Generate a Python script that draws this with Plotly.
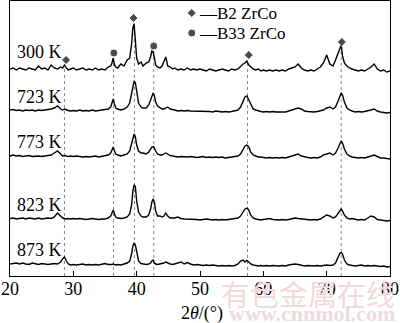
import plotly.graph_objects as go

# 2theta sample positions (degrees)
two_theta = [
    20.0, 20.5, 21.0, 21.5, 22.0, 22.5, 23.0, 23.5, 24.0, 24.5, 25.0, 25.5, 26.0, 26.5, 27.0, 27.5, 28.0,
    28.3, 28.6, 28.9, 29.2, 29.6,
    30.0, 30.5, 31.0, 31.5, 32.0, 32.5, 33.0, 33.5, 34.0, 34.5, 35.0, 35.5,
    35.9, 36.1, 36.3, 36.5, 36.7,
    37.0, 37.5, 38.0, 38.5,
    38.9, 39.2, 39.4, 39.6, 39.8, 40.0, 40.3, 40.7,
    41.0, 41.5, 41.9,
    42.2, 42.4, 42.6, 42.8, 43.0, 43.3, 43.7,
    44.0, 44.3, 44.6, 44.9, 45.3, 45.7,
    46.0, 46.5, 47.0, 47.5, 48.0, 48.5, 49.0, 49.5, 50.0, 50.5, 51.0, 51.5, 52.0, 52.5, 53.0, 53.5,
    54.0, 54.5, 55.0, 55.5, 56.0,
    56.4, 56.8, 57.1, 57.4, 57.7, 58.0, 58.4, 58.8, 59.2, 59.6,
    60.0, 60.5, 61.0, 61.5, 62.0, 62.5, 63.0, 63.5, 64.0, 64.5, 65.0, 65.5, 66.0, 66.5, 67.0, 67.5,
    68.0, 68.5, 69.0, 69.5, 70.0, 70.5, 71.0,
    71.4, 71.8, 72.1, 72.3, 72.5, 72.8, 73.2, 73.6,
    74.0, 74.5, 75.0, 75.5, 76.0, 76.5, 77.0, 77.5, 78.0, 78.5, 79.0, 79.5, 80.0,
]

# intensities (a.u.) for each temperature
i_300 = [
    3, 4, 2, 4, 3, 2, 4, 3, 2, 6, 3, 4, 2, 7, 4, 3, 5,
    4, 7, 4, 2, 3,
    4, 2, 3, 4, 2, 3, 2, 4, 2, 3, 2, 5,
    6, 9, 14, 7, 5,
    4, 8, 6, 12,
    14, 28, 44, 48, 34, 14, 8, 10,
    6, 9, 10,
    15, 21, 20, 14, 7, 5, 4,
    6, 10, 15, 6, 5, 3,
    4, 2, 3, 2, 4, 2, 3, 2, 3, 2, 1, 3, 2, 1, 2, 3, 2, 1, 3, 2, 3,
    6, 8, 9, 11, 7, 5, 3, 2, 3, 1,
    2, 1, 2, 1, 2, 1, 2, 1, 3, 4, 5, 8, 4, 2, 1, 2, 1, 3, 5, 9, 17, 8, 6,
    12, 18, 24, 27, 16, 9, 6, 4,
    3, 2, 1, 2, 1, 3, 5, 8, 3, 1, 2, 0, 1,
]
i_723 = [
    3, 3.5, 2.5, 3, 2, 3, 2.5, 3, 2, 3, 2.5, 3, 3, 4, 5, 7, 4,
    3, 4, 3, 2.5, 2,
    2.5, 2, 3, 2, 2.5, 2, 3, 2, 2.5, 3, 3, 4,
    6, 10, 14, 9, 5,
    4, 3, 4, 6,
    10, 20, 29, 32, 30, 20, 10, 6,
    5, 5, 8,
    13, 18, 20, 17, 11, 7, 5,
    4, 4, 5, 6, 4, 3,
    3, 2, 2.5, 2, 2.5, 2, 2, 1.5, 2, 1.5, 2, 1.5, 1, 2, 1.5, 1, 1.5, 1, 1.5, 2, 3,
    6, 12, 16, 17, 13, 8, 4, 3, 2, 1.5,
    1, 1.5, 1, 1.5, 1, 1, 1.5, 1, 2, 3, 4, 5, 4, 2, 1.5, 1, 1, 1.5, 2, 3, 5, 6, 4,
    6, 12, 18, 20, 18, 11, 5, 3,
    2, 1, 1.5, 1, 1.5, 2, 3, 4, 2, 1, 0.5, 0, 0.5,
]
i_773 = [
    3, 4, 3, 3.5, 2.5, 3, 3.5, 2.5, 3, 3, 2.5, 3, 3.5, 4, 6, 8, 5,
    3, 3.5, 3, 2.5, 3,
    2.5, 3, 2.5, 2, 2.5, 2, 2.5, 3, 2, 2.5, 3, 4,
    6, 9, 12, 8, 5,
    4, 3, 4, 5,
    8, 15, 22, 25, 22, 14, 8, 6,
    6, 5, 7,
    10, 12, 12.5, 11, 8, 5, 4,
    4, 5, 6, 5, 3.5, 3,
    2.5, 2, 2.5, 2, 2, 2.5, 2, 1.5, 2, 2.5, 1.5, 2, 1.5, 2, 1.5, 2, 1, 1.5, 2, 2, 3,
    5, 10, 13, 14, 12, 7, 4, 3, 2, 2,
    1.5, 1, 1.5, 1, 1.5, 1, 1.5, 1, 2, 3, 4, 5, 3, 2, 1.5, 1, 1.5, 1, 2, 4, 5, 6, 4,
    6, 11, 16, 18, 16, 10, 5, 3,
    2, 1.5, 1, 1.5, 1, 2, 3, 4, 2.5, 1, 1, 0.5, 0,
]
i_823 = [
    2.5, 3, 2, 2.5, 3, 2, 3, 2.5, 2, 3, 2, 2.5, 3, 2.5, 4, 8, 5,
    3, 2.5, 2, 2.5, 2,
    2.5, 2, 2.5, 2, 1.5, 2, 2.5, 2, 1.5, 2, 2, 3,
    5, 8, 11, 7, 4,
    3, 2.5, 3, 4,
    7, 16, 30, 36, 34, 20, 9, 5,
    4, 4, 6,
    12, 19, 22, 19, 10, 5, 5,
    4, 5, 8, 5, 3, 3,
    3, 4, 2.5, 2, 2, 1.5, 2, 1.5, 1, 1.5, 2, 1.5, 1, 1.5, 1, 1.5, 1, 1.5, 2, 2, 3,
    5, 9, 12, 13, 11, 6, 3, 2, 1.5, 1,
    1.5, 2, 2.5, 1.5, 1, 1, 1.5, 1, 1.5, 2, 3, 2.5, 2, 1.5, 1, 1, 1.5, 1, 2, 4, 6, 5, 3,
    4, 8, 11, 12, 10, 6, 3, 2,
    2.5, 1.5, 1, 1.5, 1, 3, 5, 4, 1.5, 1, 0.5, 0, 0.5,
]
i_873 = [
    3, 3.5, 4, 3, 4, 3, 2.5, 4, 3, 2.5, 3.5, 3, 2.5, 3, 3.5, 3, 5,
    8, 10, 6, 3, 2,
    2.5, 2, 2.5, 3, 2, 2.5, 2, 2.5, 2, 3, 3.5, 2.5,
    2, 2.5, 3, 2.5, 2,
    2.5, 2, 3, 4,
    6, 13, 21, 24, 22, 14, 6, 3.5,
    3, 2.5, 3,
    4, 6, 7, 4, 3, 2.5, 3,
    3, 4, 5, 4, 3, 2.5,
    3, 4, 5, 3, 4.5, 3, 2, 2.5, 2, 1.5, 2, 1.5, 2, 1.5, 1, 1.5, 1, 1.5, 1, 1.5, 3,
    6, 7, 5, 6.5, 5, 3, 2, 1.5, 1, 1.5,
    1, 1.5, 1, 1.5, 1, 1, 1.5, 1, 2, 2.5, 3, 2.5, 1.5, 1, 1.5, 1, 1, 1.5, 1, 1.5, 2, 1.5, 2,
    4, 10, 14, 14.5, 13, 7, 3, 2,
    1.5, 1, 1.5, 2, 1, 1.5, 1, 1.5, 1, 0.5, 1, 0, 0.5,
]

temp_labels = ["300 K", "723 K", "773 K", "823 K", "873 K"]
series = [i_300, i_723, i_773, i_823, i_873]
offsets = [204, 163, 117, 55, 9]
label_y = [224, 179, 134, 71, 26]

# reference peak positions
peak_pos = [28.6, 36.35, 39.65, 42.7, 57.5, 72.3]
peak_phase = ["B2", "B33", "B2", "B33", "B2", "B2"]
marker_pos = [28.85, 36.4, 39.5, 42.7, 57.7, 72.4]
marker_y = [216, 223, 258, 230, 221, 234]

legend_names = ["B2 ZrCo", "B33 ZrCo"]

FONT = "Liberation Serif, Times New Roman, serif"

fig = go.Figure()

# watermark (behind everything)
wm = [
    dict(x=1.018, y=-0.062, xref="paper", yref="paper", text="有色金属在线",
         showarrow=False, xanchor="right", yanchor="middle",
         font=dict(family="Noto Sans CJK SC", size=29, color="#f3dada")),
    dict(x=1.018, y=-0.135, xref="paper", yref="paper", text="<b>www.cnnmol.com</b>",
         showarrow=False, xanchor="right", yanchor="middle",
         font=dict(family=FONT, size=22, color="#ecdcdc")),
]

# dotted guide lines
for px, my in zip(peak_pos, marker_y):
    fig.add_trace(go.Scatter(x=[px, px], y=[0, my - 5], mode="lines",
                             line=dict(color="#8a8a8a", width=1, dash="dot"),
                             hoverinfo="skip", showlegend=False))

for vals, off in zip(series, offsets):
    fig.add_trace(go.Scatter(x=two_theta, y=[v + off for v in vals], mode="lines",
                             line=dict(color="black", width=1.4),
                             showlegend=False))

sym = {"B2": "diamond", "B33": "circle"}
size = {"B2": 7, "B33": 8}
fig.add_trace(go.Scatter(x=marker_pos, y=marker_y, mode="markers",
                         marker=dict(symbol=[sym[p] for p in peak_phase],
                                     size=[size[p] for p in peak_phase], color="black"),
                         showlegend=False))

# legend (drawn manually)
leg_x = 48.7
leg_y = [263, 243]
fig.add_trace(go.Scatter(x=[leg_x, leg_x], y=leg_y, mode="markers",
                         marker=dict(symbol=["diamond", "circle"], size=[7, 8], color="black"),
                         showlegend=False))

annotations = list(wm)
for name, ly in zip(legend_names, leg_y):
    annotations.append(dict(x=49.5, y=ly, xref="x", yref="y", text="—" + name,
                            showarrow=False, xanchor="left", yanchor="middle",
                            font=dict(family=FONT, size=17, color="black")))
for t, ly in zip(temp_labels, label_y):
    annotations.append(dict(x=20.75, y=ly, xref="x", yref="y", text=t, showarrow=False,
                            xanchor="left", yanchor="middle",
                            font=dict(family=FONT, size=18, color="black")))

annotations.append(dict(x=0.505, y=-0.135, xref="paper", yref="paper",
                        text="2<i>θ</i>/(°)", showarrow=False, xanchor="center",
                        yanchor="middle", font=dict(family=FONT, size=18, color="black")))

fig.update_layout(
    width=400, height=323,
    margin=dict(l=10, r=10, t=1, b=47),
    paper_bgcolor="white", plot_bgcolor="white",
    annotations=annotations,
    xaxis=dict(range=[20, 80], tickvals=[20, 30, 40, 50, 60, 70, 80],
               ticks="inside", ticklen=5, tickcolor="black", tickwidth=1,
               ticklabelstandoff=-4,
               showline=True, linecolor="black", linewidth=1, mirror=True,
               showgrid=False, zeroline=False,
               tickfont=dict(family=FONT, size=18, color="black")),
    yaxis=dict(range=[0, 275], showticklabels=False, ticks="",
               showline=True, linecolor="black", linewidth=1, mirror=True,
               showgrid=False, zeroline=False),
)

fig.write_html("out.html", config={"displayModeBar": False},
               post_script="document.body.style.margin='0';document.body.style.overflow='hidden';")
